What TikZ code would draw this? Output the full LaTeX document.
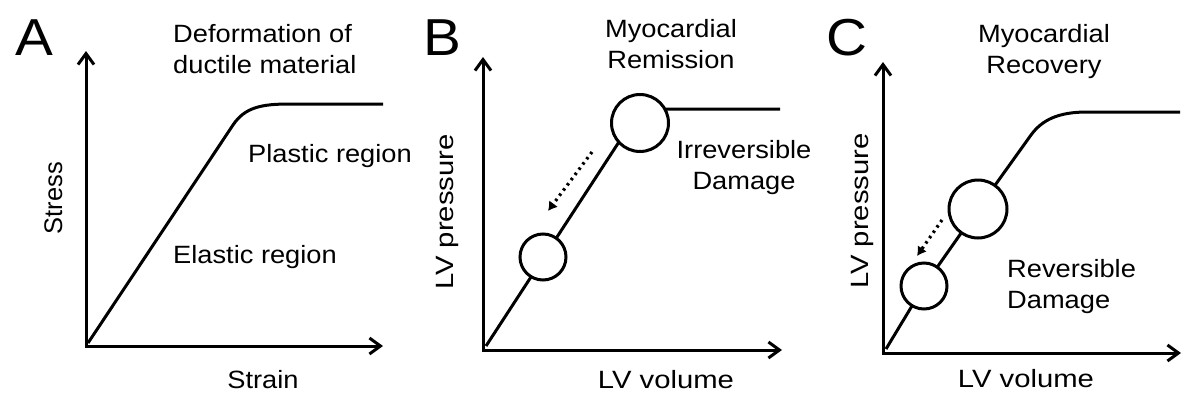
\documentclass[tikz,border=0pt]{standalone}
\usepackage{fontspec}
\setmainfont[FakeStretch=1.09]{Liberation Sans}
\newfontfamily\vertfont{Liberation Sans}
\newfontfamily\lvfont[FakeStretch=1.17]{Liberation Sans}
\usetikzlibrary{arrows.meta}

\tikzset{
    axis/.style={{Straight Barb[length=11pt,width=16pt]}-{Straight Barb[length=11pt,width=16pt]}, line width=3pt, line join=miter},
    curve/.style={line width=3pt},
    ball/.style={circle, draw, fill=white, line width=3pt, inner sep=0pt},
    trend/.style={-{Latex[length=9pt,width=11pt]}, line width=3.2pt, dash pattern=on 2.5pt off 4pt},
    lbl/.style={font=\fontsize{25}{31}\selectfont, inner sep=0pt},
    vlbl/.style={font=\vertfont\fontsize{25.5}{31}\selectfont, inner sep=0pt, rotate=90, anchor=base},
    lvlbl/.style={font=\lvfont\fontsize{25}{31}\selectfont, inner sep=0pt},
    panel/.style={font=\fontsize{52}{60}\selectfont, inner sep=0pt, anchor=base}
}

\begin{document}
\begin{tikzpicture}[x=1pt, y=-1pt]

    %% Background
    \useasboundingbox (0,0) rectangle (1200,407);

    %% Axes
    \foreach \ox/\oy/\top/\right in {86/346/51/383, 483/350/57/782, 883/353/62/1181}
    {
    \draw[axis] (\ox,\top) to (\ox,\oy) to (\right,\oy);
    }

    %% A: ductile material
    \node[panel] (letA) at (34,55) {A};
    \node[lbl, align=left, anchor=west] (titleA) at (173,49) {Deformation of\\ductile material};
    \draw[curve] (88,343) -- (233,125) .. controls (245,107) and (262,104) .. (290,104) -- (383,104);
    \node[lbl, anchor=base west] (plastic) at (248,162) {Plastic region};
    \node[lbl, anchor=base west] (elastic) at (173,263) {Elastic region};
    \node[vlbl] (stress) at (62,198) {Stress};
    \node[lbl, anchor=base] (strain) at (263,388) {Strain};

    %% B: remission
    \node[panel] (letB) at (442,55) {B};
    \node[lbl, align=center] (titleB) at (671,44) {Myocardial\\Remission};
    \draw[curve] (486,346) -- (630,125) .. controls (640,112) and (652,109) .. (672,109) -- (780,109);
    \node[ball, minimum size=57pt] (bigB) at (640,123) {};
    \node[ball, minimum size=46pt] (smallB) at (543,257) {};
    \coordinate (trendBs) at (592,152);
    \coordinate (trendBe) at (548,211);
    \draw[trend] (trendBs) -- (trendBe);
    \node[lbl, align=center] (irrev) at (744,168) {Irreversible\\Damage};
    \node[lvlbl, rotate=90, anchor=base] (presB) at (453,212) {LV pressure};
    \node[lvlbl, anchor=base] (volB) at (666,388) {LV volume};

    %% C: recovery
    \node[panel] (letC) at (847,55) {C};
    \node[lbl, align=center] (titleC) at (1044,52) {Myocardial\\Recovery};
    \draw[curve] (886,349) -- (924,286) -- (978,209) -- (1031,135) .. controls (1042,120) and (1058,112) .. (1087,112) -- (1180,112);
    \node[ball, minimum size=58pt] (bigC) at (978,209) {};
    \node[ball, minimum size=46pt] (smallC) at (924,286) {};
    \coordinate (trendCs) at (942,220);
    \coordinate (trendCe) at (917,256);
    \draw[trend] (trendCs) -- (trendCe);
    \node[lbl, align=left, anchor=west] (rev) at (1007,287) {Reversible\\Damage};
    \node[lvlbl, rotate=90, anchor=base] (presC) at (868,211) {LV pressure};
    \node[lvlbl, anchor=base] (volC) at (1026,387) {LV volume};

\end{tikzpicture}
\end{document}
